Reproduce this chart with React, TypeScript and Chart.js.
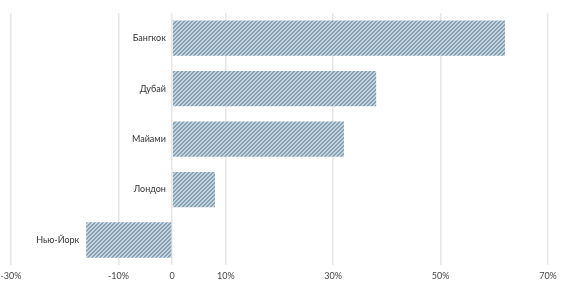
import React, { useEffect, useRef } from "react";
import { Chart, registerables } from "chart.js";

Chart.register(...registerables);

const categories = ["Бангкок", "Дубай", "Майами", "Лондон", "Нью-Йорк"];
const values = [62, 38, 32, 8, -16];
const tickValues = [-30, -10, 0, 10, 30, 50, 70];

function makePattern(): CanvasPattern | string {
  const c = document.createElement("canvas");
  c.width = 4;
  c.height = 4;
  const ctx = c.getContext("2d");
  if (!ctx) return "#a0b6c6";
  ctx.fillStyle = "#c3d2dd";
  ctx.fillRect(0, 0, 4, 4);
  ctx.fillStyle = "#87a1b5";
  for (let x = 0; x < 4; x++) {
    for (let y = 0; y < 4; y++) {
      const d = (x + y) % 4;
      if (d === 0 || d === 1) ctx.fillRect(x, y, 1, 1);
    }
  }
  const p = ctx.createPattern(c, "repeat");
  return p || "#a0b6c6";
}

const FONT_FAMILY = "Lato, 'Open Sans', sans-serif";

const sideLabels = {
  id: "sideLabels",
  afterDatasetsDraw(chart: any) {
    const meta = chart.getDatasetMeta(0);
    const ctx = chart.ctx;
    ctx.save();
    ctx.font = `9px ${FONT_FAMILY}`;
    ctx.fillStyle = "#333";
    ctx.textAlign = "right";
    ctx.textBaseline = "middle";
    meta.data.forEach((bar: any, i: number) => {
      const left = Math.min(bar.x, bar.base);
      ctx.fillText(String(chart.data.labels[i]), left - 7, bar.y);
    });
    ctx.restore();
  },
};

export default function App() {
  const ref = useRef<HTMLCanvasElement>(null);
  useEffect(() => {
    document.body.style.margin = "0";
    if (!ref.current) return;
    const font = { family: FONT_FAMILY, size: 9 };
    const chart = new Chart(ref.current, {
      type: "bar",
      data: {
        labels: categories,
        datasets: [
          {
            data: values,
            backgroundColor: makePattern() as any,
            borderWidth: 0,
            categoryPercentage: 0.7,
            barPercentage: 1,
          },
        ],
      },
      options: {
        indexAxis: "y",
        animation: false,
        responsive: false,
        maintainAspectRatio: false,
        layout: { padding: { left: 11, right: 17, top: 13, bottom: 8 } },
        plugins: { legend: { display: false }, tooltip: { enabled: false } },
        scales: {
          x: {
            min: -30,
            max: 70,
            afterBuildTicks: (axis: any) => {
              axis.ticks = tickValues.map((v) => ({ value: v }));
            },
            afterFit: (axis: any) => {
              axis.paddingLeft = 0;
              axis.paddingRight = 0;
            },
            grid: { color: "#e6e6e6", lineWidth: 1.5, drawTicks: false },
            border: { display: false },
            ticks: {
              padding: 5,
              color: "#444",
              font,
              maxRotation: 0,
              autoSkip: false,
              callback: (v: any) => (Number(v) === 0 ? "0" : v + "%"),
            },
          },
          y: {
            position: { x: 0 } as any,
            grid: { display: false },
            border: { display: false },
            ticks: { display: false },
          },
        },
      },
      plugins: [sideLabels],
    });
    return () => chart.destroy();
  }, []);
  return (
    <div style={{ width: 565, height: 294, background: "#fff" }}>
      <canvas ref={ref} width={565} height={294} />
    </div>
  );
}
